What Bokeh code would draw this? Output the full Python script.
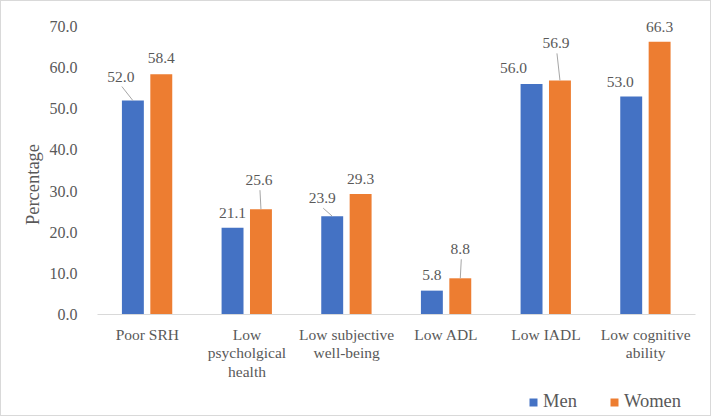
from bokeh.plotting import figure
from bokeh.models import (Range1d, FixedTicker, PrintfTickFormatter,
                          ColumnDataSource, Legend, LegendItem, LabelSet, Label)
from bokeh.core.properties import value
from bokeh.embed import file_html
from bokeh.resources import INLINE
import numpy as np

# ---- data ----
categories = ["Poor SRH", "Low\npsycholgical\nhealth", "Low subjective\nwell-being",
              "Low ADL", "Low IADL", "Low cognitive\nability"]
men = [52.0, 21.1, 23.9, 5.8, 56.0, 53.0]
women = [58.4, 25.6, 29.3, 8.8, 56.9, 66.3]
y_ticks = [0, 10, 20, 30, 40, 50, 60, 70]
y_max = 70

# ---- label placement (screen px offsets relative to bar top centre, + = down) ----
men_dx = [-12, 0, -10, 0, -18, -11]
men_dy = [-24, -15, -18, -16, -16, -14]
men_leader = [True, False, True, False, False, False]
women_dx = [0, -2, 0, 0, -4, 0]
women_dy = [-16, -29, -15, -29, -37, -15]
women_leader = [False, True, False, True, True, False]

FONT = "Liberation Serif"
TXT = "#595959"
BLUE = "#4472C4"
ORANGE = "#ED7D31"

# ---- geometry (canvas pixels) ----
W, H = 711, 416
AX_L, AX_R = 96, 694      # plot area left/right
AX_T, AX_B = 25, 313      # plot area top (y_max) / bottom (0)
n = len(categories)
px_x = (AX_R - AX_L) / n
px_y = (AX_B - AX_T) / y_max
x_start, x_end = -AX_L / px_x, n + (W - AX_R) / px_x
y_start, y_end = -(H - AX_B) / px_y, y_max + AX_T / px_y

p = figure(width=W, height=H, output_backend="svg", toolbar_location=None,
           x_range=Range1d(x_start, x_end), y_range=Range1d(y_start, y_end),
           min_border=0, tools="")
p.outline_line_color = None
p.xgrid.visible = False
p.ygrid.visible = False
p.styles = {"border": "1px solid #d9d9d9"}

xc = np.arange(n) + 0.5
off_m, off_w = -0.145, 0.14
bw = 0.22

src_m = ColumnDataSource(dict(x=xc + off_m, top=men))
src_w = ColumnDataSource(dict(x=xc + off_w, top=women))
r_m = p.vbar(x="x", top="top", width=bw, source=src_m, fill_color=BLUE, line_color=None)
r_w = p.vbar(x="x", top="top", width=bw, source=src_w, fill_color=ORANGE, line_color=None)

# data labels with leader lines
for vals, xs, dxs, dys, leaders in [(men, xc + off_m, men_dx, men_dy, men_leader),
                                    (women, xc + off_w, women_dx, women_dy, women_leader)]:
    s = ColumnDataSource(dict(x=xs, y=vals, t=[f"{v:.1f}" for v in vals],
                              dx=dxs, dy=[-d for d in dys]))
    p.add_layout(LabelSet(x="x", y="y", text="t", x_offset="dx", y_offset="dy", source=s,
                          text_font=value(FONT), text_font_size=value("15.5px"),
                          text_font_style=value("normal"),
                          text_color=value(TXT), text_align="center", text_baseline="middle"))
    x0, y0, x1, y1 = [], [], [], []
    for xi, v, dx, dy, ld in zip(xs, vals, dxs, dys, leaders):
        if ld:
            x0.append(xi + (dx + 1) / px_x)
            y0.append(v - (dy + 10) / px_y)
            x1.append(xi)
            y1.append(v)
    p.segment(x0=x0, y0=y0, x1=x1, y1=y1, line_color="#a6a6a6", line_width=1)

# axes
xa = p.xaxis[0]
xa.fixed_location = 0
xa.bounds = (0, n)
xa.ticker = FixedTicker(ticks=list(xc))
xa.major_label_overrides = {float(x): c for x, c in zip(xc, categories)}
xa.axis_line_color = "#d9d9d9"
xa.axis_line_width = 1
xa.major_tick_line_color = None
xa.minor_tick_line_color = None
xa.major_label_text_font = FONT
xa.major_label_text_font_size = "15.5px"
xa.major_label_text_font_style = "normal"
xa.major_label_text_line_height = 1.1
xa.major_label_text_color = TXT
xa.major_label_standoff = 5

ya = p.yaxis[0]
ya.fixed_location = 0
ya.bounds = (0, y_max)
ya.ticker = FixedTicker(ticks=y_ticks)
ya.formatter = PrintfTickFormatter(format="%.1f")
ya.axis_line_color = None
ya.major_tick_line_color = None
ya.minor_tick_line_color = None
ya.major_label_text_font = FONT
ya.major_label_text_font_style = "normal"
ya.major_label_text_font_size = "16px"
ya.major_label_text_color = TXT
ya.major_label_standoff = 14

# y axis title
p.add_layout(Label(x=(31 - AX_L) / px_x, y=(AX_B - 183) / px_y, text="Percentage",
                   angle=np.pi / 2, text_font=FONT, text_font_size="18.5px",
                   text_font_style="normal", text_color=TXT,
                   text_align="center", text_baseline="middle"))

legend = Legend(items=[LegendItem(label="Men", renderers=[r_m]),
                       LegendItem(label="Women", renderers=[r_w])],
                orientation="horizontal", location=(527, 5))
legend.glyph_width = 10
legend.glyph_height = 10
legend.label_text_font = FONT
legend.label_text_font_style = "normal"
legend.label_text_font_size = "18.5px"
legend.label_text_color = TXT
legend.label_standoff = 5
legend.spacing = 32
legend.padding = 0
legend.margin = 0
legend.border_line_color = None
legend.background_fill_alpha = 0
p.add_layout(legend, "center")

open("out.html", "w").write(file_html(p, INLINE))
